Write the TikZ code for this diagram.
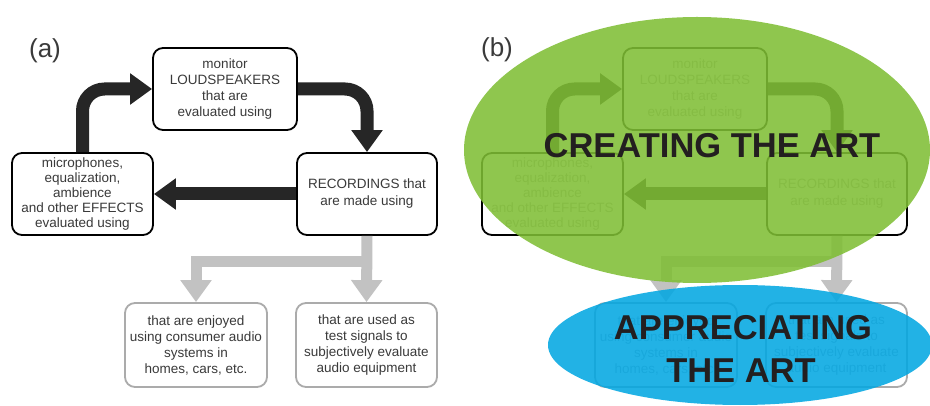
\documentclass[tikz,border=0pt]{standalone}
\usepackage{fontspec}
\setmainfont{Liberation Sans}
\usetikzlibrary{arrows.meta}

\definecolor{txtgray}{HTML}{3A3A3A}
\definecolor{arrowblack}{HTML}{262626}
\definecolor{arrowgray}{HTML}{C2C2C2}
\definecolor{boxgray}{HTML}{ABABAB}
\definecolor{artgreen}{RGB}{127,190,52}
\definecolor{artblue}{RGB}{2,167,226}
\definecolor{bigtxt}{HTML}{231F20}
\colorlet{boxtxt}{txtgray}

\tikzset{
  box/.style={draw=black, line width=1.8pt, rounded corners=10pt, fill=white,
    align=center, inner sep=0pt, text=boxtxt,
    font=\fontsize{13.5}{16}\selectfont},
  softbox/.style={box, draw=boxgray},
  bigarrow/.style={line width=13pt, draw=arrowblack,
    -{Triangle[width=30pt,length=22pt]}},
  grayarrow/.style={line width=11pt, draw=arrowgray,
    -{Triangle[width=30pt,length=22pt]}},
  panellabel/.style={font=\fontsize{26}{26}\selectfont, text=txtgray},
  arttext/.style={font=\fontsize{34.5}{42}\selectfont\bfseries, text=bigtxt,
    align=center, inner sep=0pt},
}

% The recording / evaluation loop with its two outcomes
\newcommand\recordingloop{%
  \node[box, minimum width=144pt, minimum height=82pt] (loud) at (225,89)
    {monitor\\LOUDSPEAKERS\\that are\\evaluated using};
  \node[box, minimum width=141pt, minimum height=82pt,
        font=\fontsize{13.5}{15}\selectfont] (mic) at (82.5,194)
    {microphones,\\equalization,\\ambience\\and other EFFECTS\\evaluated using};
  \node[box, minimum width=140pt, minimum height=82pt,
        font=\fontsize{13.5}{17}\selectfont] (rec) at (367,194)
    {RECORDINGS that\\are made using};
  \node[softbox, minimum width=142pt, minimum height=84pt] (enjoy) at (196,345)
    {that are enjoyed\\using consumer audio\\systems in\\homes, cars, etc.};
  \node[softbox, minimum width=141pt, minimum height=84pt] (test) at (366.5,345)
    {that are used as\\test signals to\\subjectively evaluate\\audio equipment};
  \draw[bigarrow, rounded corners=22pt] (mic.north) |- (loud.west);
  \draw[bigarrow, rounded corners=22pt] (loud.east) -| (rec.north);
  \draw[bigarrow] (rec.west) -- (mic.east);
  \coordinate (fork) at (rec.south |- 0,262);
  \draw[grayarrow] (rec.south) -- (test.north);
  \draw[grayarrow] (fork) -| (enjoy.north);
}

\begin{document}
\begin{tikzpicture}[x=1pt, y=-1pt]
  \useasboundingbox[fill=white] (0,0) rectangle (930,406);

  % panel (a)
  \begin{scope}[name prefix=a-]
    \recordingloop
  \end{scope}
  \node[panellabel] (labela) at (45,51) {(a)};

  % panel (b): the same loop, faded, under the two themes
  \begin{scope}[shift={(470,0)}, name prefix=b-]
    \colorlet{boxtxt}{txtgray!40}
    \recordingloop
  \end{scope}
  \fill[artgreen, opacity=0.87] (697,150) ellipse [x radius=233pt, y radius=133pt];
  \fill[artblue, opacity=0.87] (740,345) ellipse [x radius=192pt, y radius=60pt];
  \node[panellabel] (labelb) at (497,50) {(b)};
  \node[arttext, anchor=base] (creating) at (712,158) {CREATING THE ART};
  \node[arttext, anchor=base] (apprec1) at (743,340) {APPRECIATING};
  \node[arttext, anchor=base] (apprec2) at (741,382) {THE ART};
\end{tikzpicture}
\end{document}
